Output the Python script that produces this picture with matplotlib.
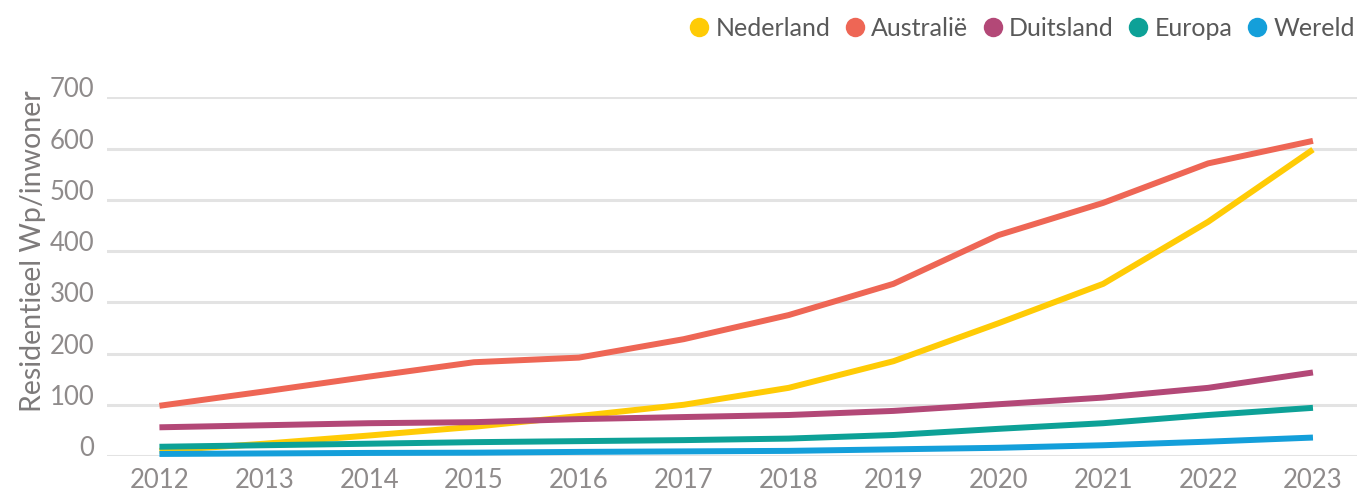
import matplotlib
matplotlib.use("Agg")
import matplotlib.pyplot as plt
from matplotlib.lines import Line2D

years = [2012, 2013, 2014, 2015, 2016, 2017, 2018, 2019, 2020, 2021, 2022, 2023]

nederland = [10, 24, 40, 57, 78, 100, 133, 185, 259, 336, 457, 598]
australie = [98, 126, 155, 183, 192, 228, 275, 336, 431, 494, 571, 615]
duitsland = [56, 60, 64, 66, 72, 76, 80, 88, 101, 114, 133, 163]
europa = [18, 21, 24, 27, 29, 31, 34, 41, 53, 64, 80, 94]
wereld = [4, 5, 6, 6.5, 8, 9, 10, 13, 16, 21, 28, 36]

series_names = ["Nederland", "Australië", "Duitsland", "Europa", "Wereld"]
series_values = [nederland, australie, duitsland, europa, wereld]
yticks = [0, 100, 200, 300, 400, 500, 600, 700]

COLORS = {
    "Nederland": "#FFCB05",
    "Australië": "#EE6655",
    "Duitsland": "#B34877",
    "Europa": "#0DA197",
    "Wereld": "#149FDA",
}

TICK_GREY = "#8f8b8b"

plt.rcParams.update({
    "font.family": ["Lato", "DejaVu Sans"],
})

W, H = 1357, 493
fig = plt.figure(figsize=(W / 100, H / 100), dpi=100)
ax = fig.add_axes([107 / W, (H - 456) / H, 1 - 107 / W, (456 - 97.3) / H])

for name, vals in zip(series_names, series_values):
    ax.plot(years, vals, color=COLORS[name], linewidth=4.3,
            solid_capstyle="butt", solid_joinstyle="round",
            clip_on=False, zorder=3)

ax.set_ylim(0, 700)
ax.set_xlim(2011.5, 2023.42)
ax.set_yticks(yticks)
ax.set_yticklabels([str(v) for v in yticks])
ax.set_xticks(years)
ax.set_xticklabels([str(y) for y in years])

ax.grid(axis="y", color="#e3e3e3", linewidth=2.2, zorder=0)
ax.grid(axis="x", visible=False)
for side in ["top", "right", "left", "bottom"]:
    ax.spines[side].set_visible(False)

ax.tick_params(axis="both", length=0, labelsize=18.5, labelcolor=TICK_GREY)
ax.tick_params(axis="y", pad=9)
ax.tick_params(axis="x", pad=9)
for lab in ax.get_yticklabels():
    lab.set_verticalalignment("baseline")

fig.text(33 / W, (H - 251) / H, "Residentieel Wp/inwoner", rotation=90,
         ha="center", va="center", fontsize=20.5, color="#7d7a7a")

handles = [Line2D([], [], linestyle="none", marker="o", markersize=14,
                  markerfacecolor=COLORS[n], markeredgecolor="none")
           for n in series_names]
leg = fig.legend(handles, series_names, loc="upper right",
                 bbox_to_anchor=(1.015, 1.011), ncol=5, frameon=False,
                 fontsize=18, handletextpad=0.15, columnspacing=0.48,
                 handlelength=1.0, labelcolor="#595959")

fig.savefig("out.png", dpi=100)
